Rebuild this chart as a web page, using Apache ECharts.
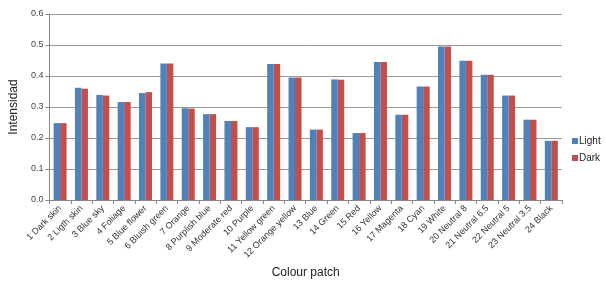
<!DOCTYPE html>
<html>
<head>
<meta charset="utf-8">
<script src="https://cdn.jsdelivr.net/npm/echarts@6/dist/echarts.min.js"></script>
<style>
  html, body { margin: 0; padding: 0; background: #fff; }
  #chart { width: 606px; height: 284px; }
</style>
</head>
<body>
<div id="chart"></div>
<script>
const categories = [
  "1 Dark skin", "2 Ligth skin", "3 Blue sky", "4 Foliage", "5 Blue flower",
  "6 Bluish green", "7 Orange", "8 Purplish blue", "9 Moderate red", "10 Purple",
  "11 Yellow green", "12 Orange yellow", "13 Blue", "14 Green", "15 Red",
  "16 Yellow", "17 Magenta", "18 Cyan", "19 White", "20 Neutral 8",
  "21 Neutral 6.5", "22 Neutral 5", "23 Neutral 3.5", "24 Black"
];
const light = [
  0.248, 0.362, 0.339, 0.316, 0.345, 0.440, 0.296, 0.277, 0.255, 0.235,
  0.439, 0.395, 0.227, 0.389, 0.216, 0.445, 0.275, 0.366, 0.495, 0.449,
  0.404, 0.337, 0.259, 0.191
];
const dark = [
  0.248, 0.359, 0.337, 0.316, 0.348, 0.440, 0.295, 0.277, 0.255, 0.235,
  0.439, 0.395, 0.227, 0.388, 0.216, 0.445, 0.275, 0.366, 0.495, 0.449,
  0.404, 0.337, 0.259, 0.191
];
const yTicks = [0, 0.1, 0.2, 0.3, 0.4, 0.5, 0.6];

const chart = echarts.init(document.getElementById("chart"));
const font = "Liberation Sans, Arial, sans-serif";

chart.setOption({
  animation: false,
  textStyle: { fontFamily: font },
  grid: { left: 44, right: 44, top: 14, bottom: 80, containLabel: false },
  legend: {
    orient: "vertical",
    left: 572,
    top: 136,
    padding: 0,
    itemWidth: 6,
    itemHeight: 6,
    itemGap: 7,
    icon: "rect",
    textStyle: { fontSize: 10, color: "#222", padding: [0, 0, 0, -4] },
    data: ["Light", "Dark"]
  },
  xAxis: {
    type: "category",
    data: categories,
    name: "Colour patch",
    nameLocation: "middle",
    nameGap: 67,
    nameTextStyle: { fontSize: 12, color: "#222" },
    axisLine: { lineStyle: { color: "#888" } },
    axisTick: { show: true, alignWithLabel: false, length: 4, lineStyle: { color: "#888" } },
    axisLabel: { rotate: 45, fontSize: 9, color: "#333", interval: 0, margin: 7 }
  },
  yAxis: {
    type: "value",
    min: 0,
    max: 0.6,
    interval: 0.1,
    name: "Intensidad",
    nameLocation: "middle",
    nameGap: 27,
    nameTextStyle: { fontSize: 12, color: "#222" },
    axisLine: { show: true, lineStyle: { color: "#888" } },
    axisTick: { show: true, length: 4, lineStyle: { color: "#888" } },
    axisLabel: {
      fontSize: 9,
      color: "#444",
      margin: 6,
      formatter: v => yTicks.includes(Math.round(v * 10) / 10) ? v.toFixed(1) : ""
    },
    splitLine: { lineStyle: { color: "#9a9a9a", width: 1 } }
  },
  series: [
    {
      name: "Light",
      type: "bar",
      data: light,
      barWidth: 6.5,
      barGap: "0%",
      itemStyle: { color: "#4F81BD" }
    },
    {
      name: "Dark",
      type: "bar",
      data: dark,
      barWidth: 6.5,
      itemStyle: { color: "#C0504D" }
    }
  ]
});
</script>
</body>
</html>
